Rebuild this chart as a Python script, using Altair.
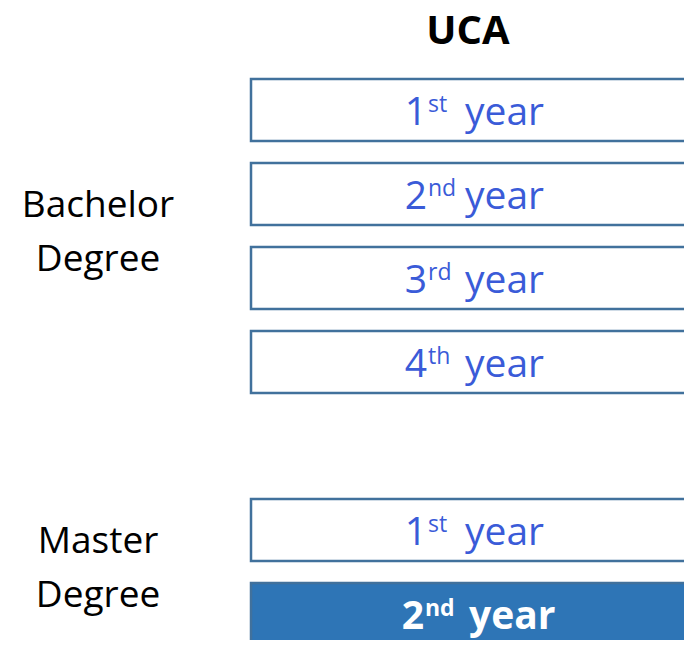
import altair as alt
import pandas as pd

# ---- content ----
column_title = "UCA"
numbers = ["1", "2", "3", "4", "1", "2"]
suffixes = ["st", "nd", "rd", "th", "st", "nd"]
word = "year"
degree = ["Bachelor", "Bachelor", "Bachelor", "Bachelor", "Master", "Master"]
slots = [0, 1, 2, 3, 5, 6]          # row position (one slot per box, one empty slot between degrees)
status = ["normal", "normal", "normal", "normal", "normal", "current"]
group_names = ["Bachelor", "Master"]
group_labels = ["Bachelor\nDegree", "Master\nDegree"]

# ---- layout ----
W, H = 676, 632
SLOT_PX = 84
Y0 = -71 / SLOT_PX
BOX_H = 62 / SLOT_PX
FONT = "Open Sans"
BLUE_TEXT = "#3A5BD8"
BORDER = "#41719C"
FILL = "#2E75B6"

rows = pd.DataFrame({
    "num": numbers, "sup": suffixes, "word": [word] * len(numbers),
    "degree": degree, "slot": slots, "status": status,
})
rows["slot_end"] = rows["slot"] + BOX_H
rows["x0"] = 243
rows["x1"] = 760

groups = pd.DataFrame({"degree": group_names, "label": group_labels})
ext = rows.groupby("degree").agg(first=("slot", "min"), last=("slot_end", "max")).reset_index()
groups = groups.merge(ext, on="degree")
groups["center"] = (groups["first"] + groups["last"]) / 2

xs = alt.Scale(domain=[0, W])
ys = alt.Scale(domain=[Y0, Y0 + H / SLOT_PX], reverse=True)

base = alt.Chart(rows)

boxes = base.mark_rect(stroke=BORDER, strokeWidth=2.5, clip=True).encode(
    x=alt.X("x0:Q", scale=xs, axis=None),
    x2="x1:Q",
    y=alt.Y("slot:Q", scale=ys, axis=None),
    y2="slot_end:Q",
    fill=alt.Fill("status:N", scale=alt.Scale(domain=["normal", "current"], range=["white", FILL]), legend=None),
)


def label_layers(stat, weight, color, split_x, year_x, sup_gap):
    b = base.transform_filter(alt.datum.status == stat)
    num = b.mark_text(font=FONT, fontSize=39, fontWeight=weight, color=color,
                      align="right", baseline="alphabetic", dy=46).encode(
        x=alt.X(datum=split_x, scale=xs), y=alt.Y("slot:Q", scale=ys), text="num:N")
    sup = b.mark_text(font=FONT, fontSize=23, fontWeight=weight, color=color,
                      align="left", baseline="alphabetic", dy=33).encode(
        x=alt.X(datum=split_x + sup_gap, scale=xs), y=alt.Y("slot:Q", scale=ys), text="sup:N")
    yr = b.mark_text(font=FONT, fontSize=39, fontWeight=weight, color=color,
                     align="left", baseline="alphabetic", dy=46).encode(
        x=alt.X(datum=year_x, scale=xs), y=alt.Y("slot:Q", scale=ys), text="word:N")
    return [num, sup, yr]


normal_text = label_layers("normal", "normal", BLUE_TEXT, 419, 457, 1)
current_text = label_layers("current", "bold", "white", 416, 461, 1)

group_text = alt.Chart(groups).mark_text(
    font=FONT, fontSize=37, color="black", align="center", baseline="alphabetic",
    lineBreak="\n", lineHeight=54, dy=-19,
).encode(
    x=alt.X(datum=90, scale=xs),
    y=alt.Y("center:Q", scale=ys),
    text="label:N",
)

title = alt.Chart(pd.DataFrame({"t": [column_title]})).mark_text(
    font=FONT, fontSize=40, fontWeight="bold", color="black",
    align="center", baseline="alphabetic", dy=-35,
).encode(
    x=alt.X(datum=460, scale=xs),
    y=alt.Y(datum=0, scale=ys),
    text="t:N",
)

chart = alt.layer(boxes, *normal_text, *current_text, group_text, title).properties(
    width=W, height=H, padding=0, autosize=alt.AutoSizeParams(type="none"),
).configure_view(stroke=None)

chart.save("out.html", embed_options={"renderer": "svg", "actions": False})
